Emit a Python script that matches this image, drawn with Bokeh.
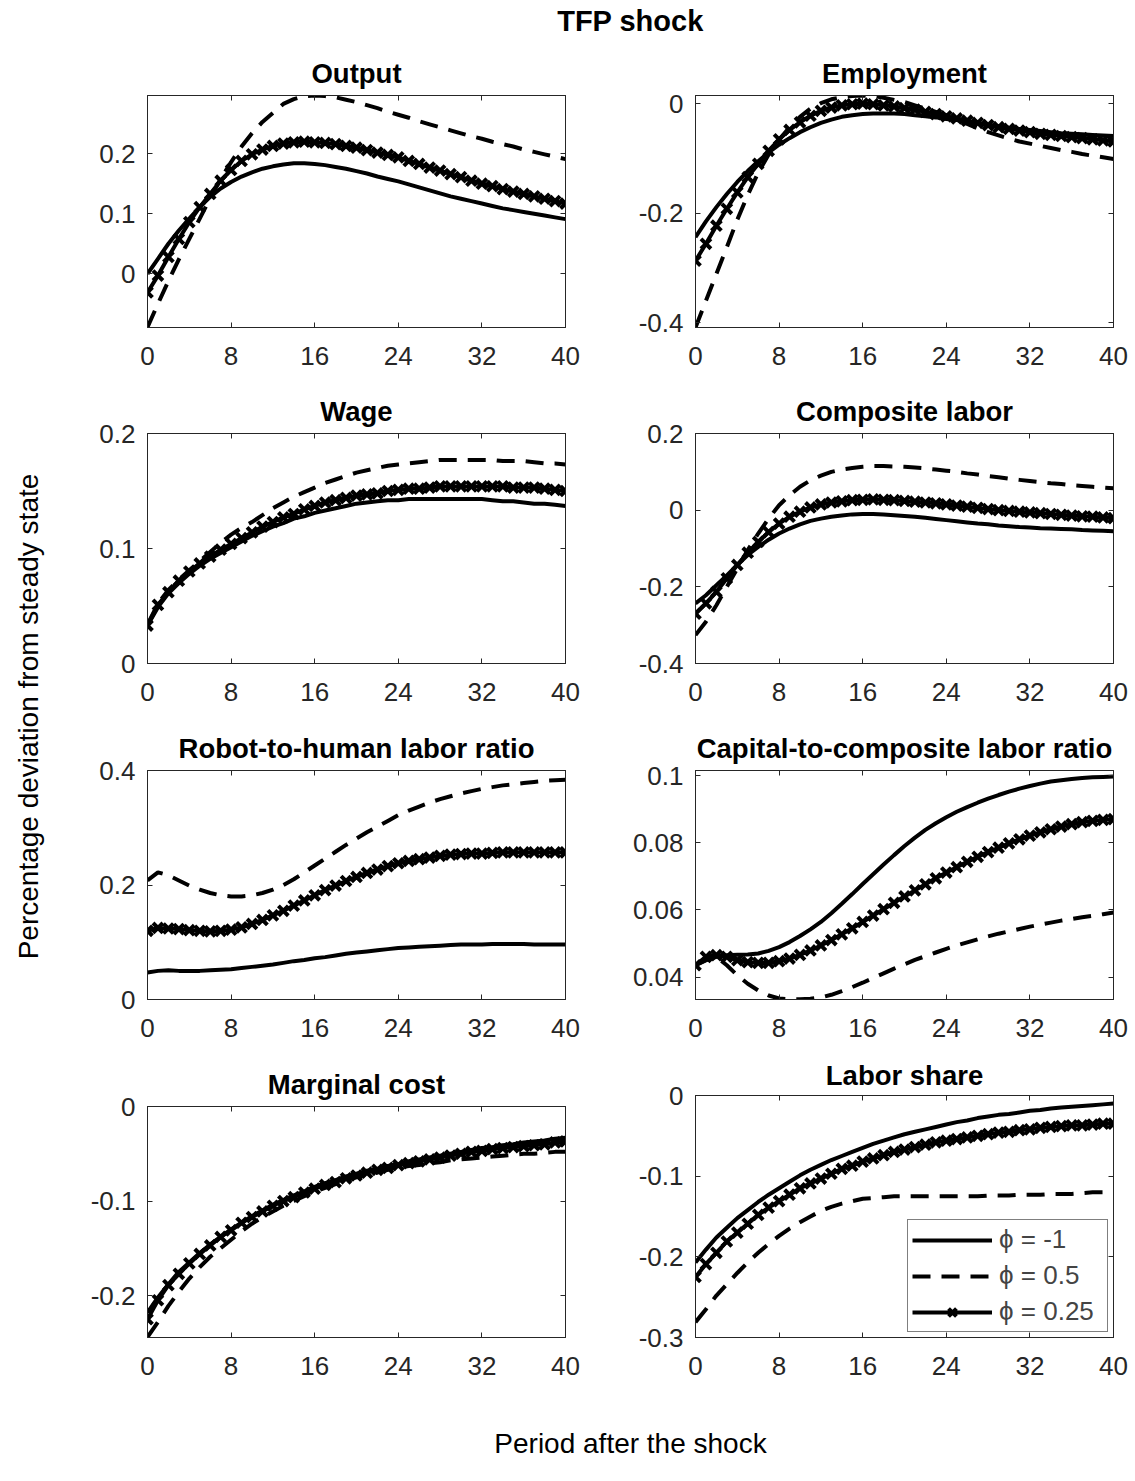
import math
from bokeh.plotting import figure
from bokeh.layouts import row, column
from bokeh.models import (Range1d, FixedTicker, LinearAxis, CustomJSTickFormatter,
                          Legend, LegendItem)
from bokeh.core.properties import value
from bokeh.embed import file_html
from bokeh.resources import INLINE

FONT = "Liberation Sans"
AXC = "#262626"

# ---------------- data ----------------
periods = list(range(41))
x_ticks = [0, 8, 16, 24, 32, 40]
legend_labels = ["ϕ = -1", "ϕ = 0.5", "ϕ = 0.25"]

output_m1 = [0.000, 0.025, 0.050, 0.072, 0.092, 0.111, 0.128, 0.142, 0.153, 0.162, 0.169, 0.175, 0.179, 0.182, 0.184, 0.184, 0.183, 0.181, 0.178, 0.175, 0.171, 0.167, 0.162, 0.158, 0.154, 0.149, 0.144, 0.139, 0.134, 0.129, 0.125, 0.121, 0.117, 0.113, 0.109, 0.106, 0.103, 0.100, 0.097, 0.094, 0.091]
output_05 = [-0.089, -0.050, -0.012, 0.024, 0.058, 0.092, 0.126, 0.158, 0.186, 0.212, 0.234, 0.253, 0.268, 0.283, 0.291, 0.296, 0.297, 0.296, 0.294, 0.290, 0.286, 0.281, 0.276, 0.270, 0.265, 0.260, 0.254, 0.249, 0.244, 0.239, 0.234, 0.229, 0.225, 0.220, 0.216, 0.212, 0.207, 0.203, 0.199, 0.195, 0.191]
output_025 = [-0.031, -0.003, 0.028, 0.058, 0.086, 0.111, 0.133, 0.155, 0.173, 0.188, 0.199, 0.207, 0.213, 0.217, 0.219, 0.220, 0.219, 0.218, 0.216, 0.213, 0.210, 0.206, 0.202, 0.198, 0.194, 0.188, 0.183, 0.177, 0.172, 0.166, 0.161, 0.155, 0.150, 0.146, 0.141, 0.137, 0.133, 0.129, 0.125, 0.121, 0.117]

employment_m1 = [-0.244, -0.215, -0.189, -0.165, -0.143, -0.123, -0.105, -0.089, -0.075, -0.063, -0.052, -0.043, -0.035, -0.029, -0.024, -0.021, -0.019, -0.018, -0.018, -0.018, -0.019, -0.021, -0.023, -0.025, -0.028, -0.030, -0.033, -0.036, -0.039, -0.041, -0.044, -0.046, -0.048, -0.050, -0.052, -0.054, -0.055, -0.056, -0.057, -0.058, -0.059]
employment_05 = [-0.409, -0.360, -0.311, -0.262, -0.212, -0.167, -0.126, -0.093, -0.066, -0.043, -0.024, -0.009, 0.001, 0.008, 0.012, 0.014, 0.015, 0.014, 0.011, 0.007, 0.003, -0.003, -0.009, -0.015, -0.021, -0.029, -0.037, -0.045, -0.052, -0.058, -0.064, -0.069, -0.073, -0.077, -0.081, -0.085, -0.088, -0.092, -0.095, -0.098, -0.101]
employment_025 = [-0.287, -0.256, -0.223, -0.192, -0.162, -0.134, -0.110, -0.086, -0.065, -0.048, -0.034, -0.022, -0.013, -0.007, -0.003, -0.001, 0.000, -0.001, -0.003, -0.005, -0.008, -0.011, -0.015, -0.019, -0.023, -0.027, -0.031, -0.035, -0.039, -0.043, -0.046, -0.049, -0.052, -0.055, -0.057, -0.059, -0.061, -0.063, -0.065, -0.067, -0.069]

wage_m1 = [0.033, 0.049, 0.061, 0.070, 0.078, 0.085, 0.091, 0.096, 0.101, 0.106, 0.111, 0.115, 0.119, 0.122, 0.126, 0.128, 0.131, 0.133, 0.135, 0.137, 0.139, 0.140, 0.141, 0.142, 0.142, 0.143, 0.143, 0.143, 0.143, 0.143, 0.143, 0.143, 0.143, 0.142, 0.141, 0.141, 0.140, 0.139, 0.139, 0.138, 0.137]
wage_05 = [0.034, 0.052, 0.064, 0.073, 0.081, 0.089, 0.097, 0.105, 0.112, 0.118, 0.123, 0.129, 0.135, 0.140, 0.145, 0.149, 0.153, 0.157, 0.160, 0.163, 0.166, 0.168, 0.170, 0.172, 0.173, 0.174, 0.175, 0.176, 0.177, 0.177, 0.177, 0.177, 0.177, 0.177, 0.176, 0.176, 0.176, 0.175, 0.174, 0.174, 0.173]
wage_025 = [0.033, 0.051, 0.062, 0.072, 0.080, 0.087, 0.093, 0.099, 0.104, 0.109, 0.114, 0.119, 0.123, 0.127, 0.130, 0.134, 0.137, 0.140, 0.142, 0.144, 0.146, 0.147, 0.148, 0.150, 0.151, 0.152, 0.152, 0.153, 0.154, 0.154, 0.154, 0.154, 0.154, 0.154, 0.154, 0.153, 0.153, 0.153, 0.152, 0.151, 0.150]

complabor_m1 = [-0.243, -0.222, -0.196, -0.170, -0.143, -0.117, -0.096, -0.077, -0.061, -0.048, -0.037, -0.028, -0.022, -0.017, -0.014, -0.011, -0.010, -0.010, -0.011, -0.013, -0.015, -0.017, -0.020, -0.023, -0.026, -0.029, -0.032, -0.035, -0.037, -0.040, -0.042, -0.044, -0.045, -0.047, -0.048, -0.049, -0.050, -0.052, -0.053, -0.054, -0.055]
complabor_05 = [-0.326, -0.291, -0.248, -0.200, -0.152, -0.104, -0.061, -0.022, 0.013, 0.039, 0.061, 0.078, 0.090, 0.100, 0.106, 0.110, 0.113, 0.115, 0.115, 0.114, 0.113, 0.111, 0.109, 0.106, 0.103, 0.100, 0.096, 0.093, 0.089, 0.086, 0.082, 0.079, 0.076, 0.073, 0.070, 0.068, 0.065, 0.063, 0.061, 0.059, 0.057]
complabor_025 = [-0.270, -0.243, -0.213, -0.178, -0.143, -0.111, -0.083, -0.057, -0.035, -0.017, -0.004, 0.007, 0.015, 0.020, 0.023, 0.026, 0.027, 0.028, 0.027, 0.026, 0.024, 0.022, 0.020, 0.018, 0.015, 0.012, 0.009, 0.006, 0.003, 0.000, -0.002, -0.004, -0.006, -0.008, -0.010, -0.012, -0.014, -0.016, -0.017, -0.019, -0.021]

robot_m1 = [0.047, 0.050, 0.051, 0.050, 0.050, 0.050, 0.051, 0.052, 0.053, 0.055, 0.057, 0.059, 0.061, 0.064, 0.067, 0.069, 0.072, 0.074, 0.077, 0.080, 0.082, 0.084, 0.086, 0.088, 0.090, 0.091, 0.092, 0.093, 0.094, 0.095, 0.096, 0.096, 0.096, 0.097, 0.097, 0.097, 0.097, 0.096, 0.096, 0.096, 0.096]
robot_05 = [0.208, 0.222, 0.217, 0.208, 0.199, 0.192, 0.186, 0.182, 0.180, 0.180, 0.182, 0.186, 0.192, 0.200, 0.210, 0.222, 0.234, 0.246, 0.258, 0.270, 0.281, 0.292, 0.302, 0.312, 0.322, 0.330, 0.337, 0.344, 0.350, 0.355, 0.360, 0.364, 0.368, 0.371, 0.374, 0.376, 0.378, 0.380, 0.382, 0.383, 0.384]
robot_025 = [0.120, 0.125, 0.124, 0.123, 0.121, 0.120, 0.119, 0.120, 0.122, 0.126, 0.132, 0.139, 0.147, 0.155, 0.164, 0.173, 0.182, 0.191, 0.199, 0.207, 0.214, 0.221, 0.227, 0.233, 0.238, 0.242, 0.245, 0.248, 0.251, 0.253, 0.254, 0.255, 0.255, 0.256, 0.257, 0.257, 0.257, 0.257, 0.257, 0.257, 0.257]

capital_m1 = [0.0435, 0.0450, 0.0460, 0.0465, 0.0466, 0.0467, 0.0470, 0.0478, 0.0489, 0.0504, 0.0522, 0.0542, 0.0564, 0.0590, 0.0618, 0.0647, 0.0677, 0.0706, 0.0735, 0.0763, 0.0790, 0.0815, 0.0838, 0.0858, 0.0876, 0.0892, 0.0906, 0.0919, 0.0931, 0.0942, 0.0952, 0.0961, 0.0969, 0.0976, 0.0982, 0.0986, 0.0990, 0.0993, 0.0995, 0.0996, 0.0997]
capital_05 = [0.0435, 0.0450, 0.0460, 0.0435, 0.0405, 0.0380, 0.0360, 0.0345, 0.0336, 0.0334, 0.0334, 0.0335, 0.0339, 0.0347, 0.0358, 0.0370, 0.0383, 0.0397, 0.0411, 0.0425, 0.0438, 0.0451, 0.0462, 0.0473, 0.0484, 0.0494, 0.0503, 0.0512, 0.0521, 0.0529, 0.0536, 0.0543, 0.0550, 0.0556, 0.0562, 0.0568, 0.0573, 0.0578, 0.0582, 0.0587, 0.0592]
capital_025 = [0.0435, 0.0460, 0.0465, 0.0460, 0.0450, 0.0444, 0.0442, 0.0442, 0.0447, 0.0455, 0.0466, 0.0479, 0.0494, 0.0510, 0.0527, 0.0545, 0.0564, 0.0583, 0.0602, 0.0621, 0.0640, 0.0658, 0.0676, 0.0694, 0.0711, 0.0727, 0.0743, 0.0758, 0.0772, 0.0785, 0.0798, 0.0810, 0.0821, 0.0831, 0.0840, 0.0848, 0.0855, 0.0861, 0.0865, 0.0868, 0.0870]

mcost_m1 = [-0.218, -0.202, -0.188, -0.175, -0.165, -0.155, -0.146, -0.138, -0.130, -0.123, -0.116, -0.110, -0.104, -0.099, -0.094, -0.090, -0.085, -0.081, -0.078, -0.074, -0.071, -0.068, -0.066, -0.063, -0.061, -0.058, -0.056, -0.054, -0.052, -0.050, -0.048, -0.046, -0.044, -0.043, -0.041, -0.040, -0.038, -0.037, -0.036, -0.034, -0.033]
mcost_05 = [-0.244, -0.228, -0.211, -0.196, -0.182, -0.170, -0.159, -0.150, -0.141, -0.132, -0.124, -0.117, -0.111, -0.105, -0.100, -0.095, -0.090, -0.086, -0.082, -0.078, -0.075, -0.072, -0.070, -0.067, -0.065, -0.063, -0.062, -0.060, -0.059, -0.057, -0.056, -0.055, -0.054, -0.053, -0.052, -0.051, -0.050, -0.050, -0.049, -0.048, -0.048]
mcost_025 = [-0.225, -0.205, -0.189, -0.177, -0.166, -0.156, -0.147, -0.138, -0.131, -0.123, -0.117, -0.111, -0.105, -0.100, -0.096, -0.091, -0.087, -0.083, -0.080, -0.076, -0.073, -0.070, -0.067, -0.065, -0.062, -0.060, -0.058, -0.056, -0.054, -0.052, -0.050, -0.048, -0.047, -0.045, -0.044, -0.043, -0.042, -0.041, -0.040, -0.038, -0.037]

lshare_m1 = [-0.207, -0.191, -0.176, -0.164, -0.152, -0.142, -0.132, -0.123, -0.115, -0.107, -0.099, -0.092, -0.086, -0.080, -0.075, -0.070, -0.065, -0.060, -0.056, -0.052, -0.048, -0.045, -0.042, -0.039, -0.036, -0.033, -0.031, -0.028, -0.026, -0.024, -0.023, -0.021, -0.019, -0.018, -0.016, -0.015, -0.014, -0.013, -0.012, -0.011, -0.010]
lshare_05 = [-0.281, -0.265, -0.248, -0.234, -0.220, -0.207, -0.195, -0.184, -0.174, -0.165, -0.157, -0.150, -0.143, -0.138, -0.134, -0.131, -0.128, -0.127, -0.126, -0.125, -0.125, -0.125, -0.125, -0.125, -0.125, -0.125, -0.125, -0.125, -0.124, -0.124, -0.124, -0.123, -0.123, -0.123, -0.122, -0.122, -0.122, -0.121, -0.120, -0.120, -0.119]
lshare_025 = [-0.225, -0.209, -0.195, -0.181, -0.170, -0.159, -0.148, -0.139, -0.131, -0.123, -0.115, -0.109, -0.103, -0.097, -0.091, -0.087, -0.082, -0.078, -0.074, -0.070, -0.067, -0.064, -0.061, -0.058, -0.056, -0.054, -0.052, -0.050, -0.048, -0.046, -0.045, -0.043, -0.042, -0.040, -0.039, -0.038, -0.037, -0.037, -0.036, -0.035, -0.035]

panel_titles = ["Output", "Employment", "Wage", "Composite labor",
                "Robot-to-human labor ratio", "Capital-to-composite labor ratio",
                "Marginal cost", "Labor share"]
panel_series = [(output_m1, output_05, output_025),
                (employment_m1, employment_05, employment_025),
                (wage_m1, wage_05, wage_025),
                (complabor_m1, complabor_05, complabor_025),
                (robot_m1, robot_05, robot_025),
                (capital_m1, capital_05, capital_025),
                (mcost_m1, mcost_05, mcost_025),
                (lshare_m1, lshare_05, lshare_025)]
panel_yticks = [[0, 0.1, 0.2], [-0.4, -0.2, 0], [0, 0.1, 0.2], [-0.4, -0.2, 0, 0.2],
                [0, 0.2, 0.4], [0.04, 0.06, 0.08, 0.1], [-0.2, -0.1, 0], [-0.3, -0.2, -0.1, 0]]
panel_ylims = [(-0.0895, 0.297), (-0.409, 0.015), (0.0, 0.2), (-0.4, 0.2),
               (0.0, 0.4), (0.0333, 0.1015), (-0.2444, 0.0), (-0.3, 0.0)]

# ---------------- layout geometry ----------------
ROW_H = [340, 336, 336, 338]
ROW_TOP = [[55, 55], [53, 53], [54, 54], [54, 42]]
TITLE_STANDOFF = [[14, 14], [14, 14], [14, 14], [14, 10]]
COL_W = [560, 515]
COL_LEFT = [87, 75]
FRAME_W = 418
TICK_FS = "26px"
LW = 4

fmt_code = "return String(Number(tick.toFixed(4)));"


def style_axis(ax, ticks, labels=True):
    ax.ticker = FixedTicker(ticks=ticks)
    ax.axis_line_color = AXC
    ax.axis_line_width = 1
    ax.major_tick_line_color = AXC
    ax.major_tick_in = 5
    ax.major_tick_out = 0
    ax.minor_tick_line_color = None
    if labels:
        ax.formatter = CustomJSTickFormatter(code=fmt_code)
        ax.major_label_text_font = FONT
        ax.major_label_text_font_size = TICK_FS
        ax.major_label_text_color = AXC
    else:
        ax.formatter = CustomJSTickFormatter(code="return '';")
        ax.major_label_text_font_size = "0px"
        ax.major_label_standoff = 0


def make_panel(i):
    r, c = divmod(i, 2)
    m1, m05, m025 = panel_series[i]
    ylo, yhi = panel_ylims[i]
    top = ROW_TOP[r][c]
    p = figure(width=COL_W[c], height=ROW_H[r],
               x_range=Range1d(0, 40), y_range=Range1d(ylo, yhi),
               output_backend="svg", toolbar_location=None,
               min_border_left=COL_LEFT[c],
               min_border_right=COL_W[c] - COL_LEFT[c] - FRAME_W,
               min_border_top=top, min_border_bottom=53)
    p.xgrid.visible = False
    p.ygrid.visible = False
    p.outline_line_color = AXC
    p.background_fill_color = "white"
    p.border_fill_color = "white"

    style_axis(p.xaxis[0], x_ticks)
    p.xaxis[0].major_label_standoff = 19
    style_axis(p.yaxis[0], panel_yticks[i])
    p.yaxis[0].major_label_standoff = 12

    ra = LinearAxis()
    style_axis(ra, panel_yticks[i], labels=False)
    p.add_layout(ra, "right")
    ta = LinearAxis()
    style_axis(ta, x_ticks, labels=False)
    p.add_layout(ta, "above")

    p.title.text = panel_titles[i]
    p.title.align = "center"
    p.title.text_font = FONT
    p.title.text_font_size = "27.5px"
    p.title.text_font_style = "bold"
    p.title.text_color = "black"
    p.title.standoff = TITLE_STANDOFF[r][c]

    r1 = p.line(periods, m1, line_color="black", line_width=LW)
    r2 = p.line(periods, m05, line_color="black", line_width=LW, line_dash="18 11")
    r3 = p.line(periods, m025, line_color="black", line_width=LW)
    r4 = p.scatter(periods, m025, marker="x", size=14, line_color="black", line_width=4)

    if i == 7:
        leg = Legend(items=[LegendItem(label=legend_labels[0], renderers=[r1]),
                            LegendItem(label=legend_labels[1], renderers=[r2]),
                            LegendItem(label=legend_labels[2], renderers=[r3, r4])],
                     location="bottom_right", margin=5, padding=4, spacing=5,
                     glyph_width=80, glyph_height=28, label_height=28, label_width=104,
                     label_standoff=7,
                     label_text_font=FONT, label_text_font_size="26px",
                     border_line_color="black", border_line_width=1,
                     background_fill_color="white", background_fill_alpha=1.0)
        p.add_layout(leg)
    return p


def blank(w, h):
    b = figure(width=w, height=h, x_range=Range1d(0, w), y_range=Range1d(0, h),
               output_backend="svg", toolbar_location=None, min_border=0,
               x_axis_type=None, y_axis_type=None)
    b.outline_line_color = None
    b.background_fill_color = "white"
    b.border_fill_color = "white"
    return b


panels = [make_panel(i) for i in range(8)]
left_col = column(*[panels[i] for i in (0, 2, 4, 6)])
right_col = column(*[panels[i] for i in (1, 3, 5, 7)])

top_fig = blank(1135, 40)
top_fig.text(x=[630], y=[20], text=["TFP shock"], text_align="center", text_baseline="middle",
             text_font=value(FONT), text_font_style="bold", text_font_size="29px", text_color="black")

ylab_fig = blank(60, sum(ROW_H))
ylab_fig.text(x=[28], y=[sum(ROW_H) - 676], text=["Percentage deviation from steady state"],
              angle=math.pi / 2, text_align="center", text_baseline="middle",
              text_font=value(FONT), text_font_size="28px", text_color="black")

bot_fig = blank(1135, 91)
bot_fig.text(x=[630], y=[38], text=["Period after the shock"], text_align="center",
             text_baseline="middle", text_font=value(FONT), text_font_size="28px", text_color="black")

page = column(top_fig, row(ylab_fig, row(left_col, right_col)), bot_fig)

open("out.html", "w").write(file_html(page, INLINE))
